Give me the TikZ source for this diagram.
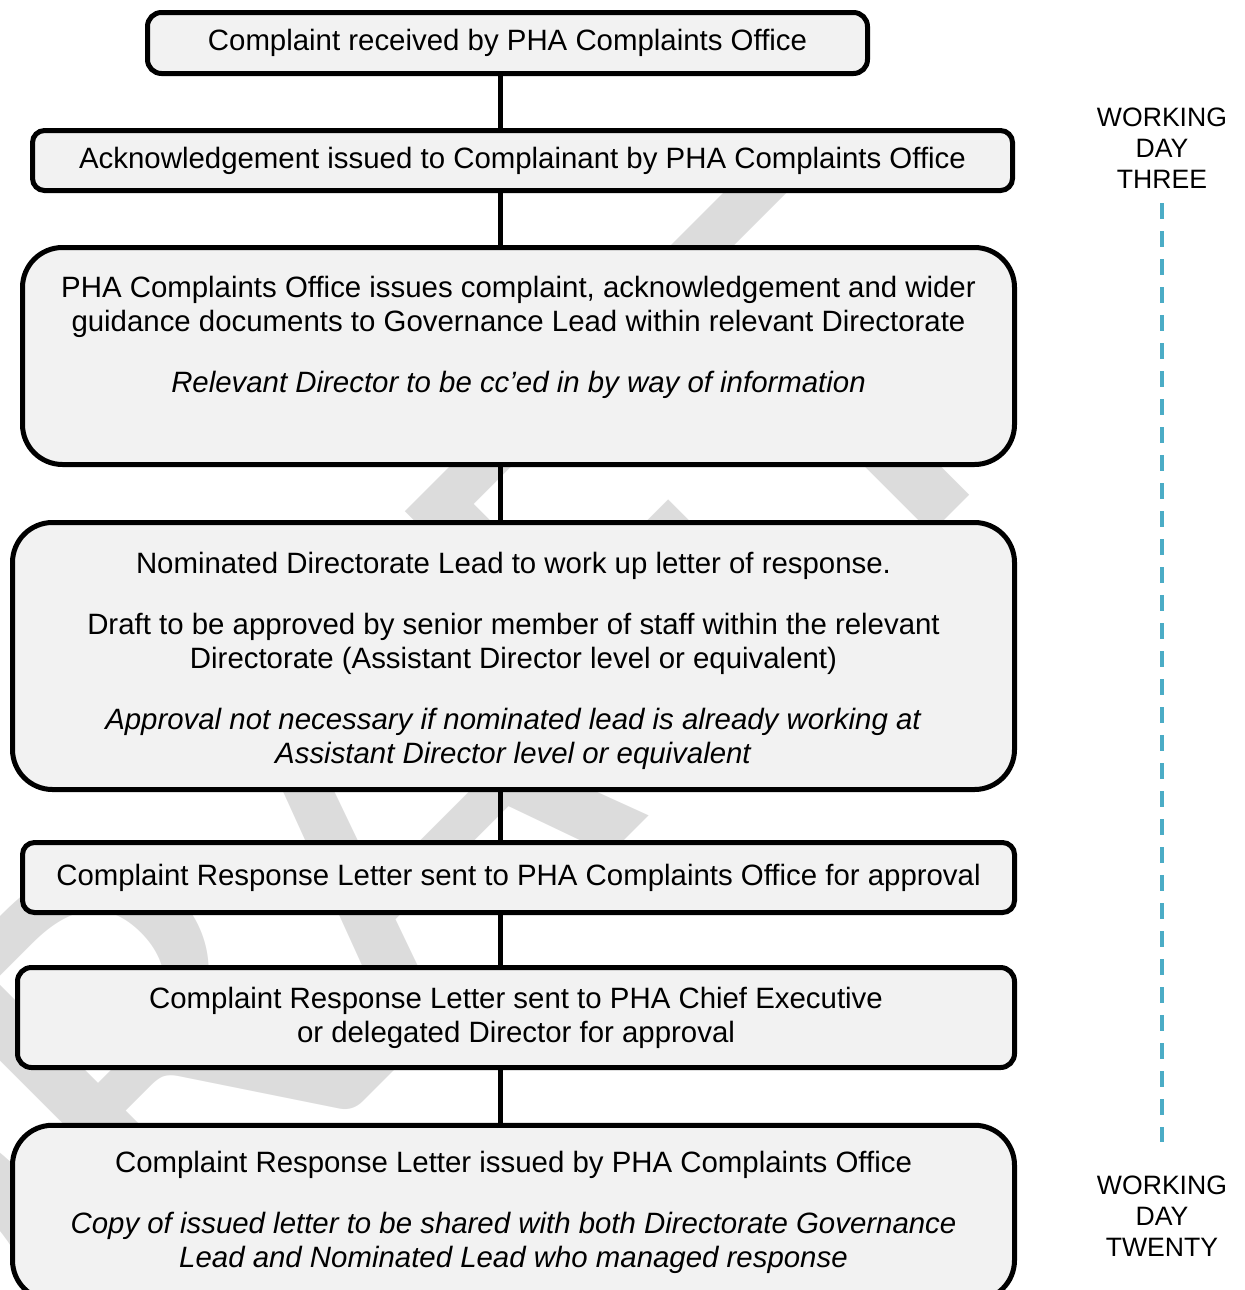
\documentclass[tikz,border=0pt]{standalone}
\usepackage{fontspec}
\setmainfont{Liberation Sans}
\newfontfamily\markfont{Carlito}
\definecolor{boxgrey}{HTML}{F2F2F2}
\definecolor{daycyan}{HTML}{4BACC6}
\definecolor{markgrey}{HTML}{DCDCDC}

\begin{document}
\begin{tikzpicture}[x=0.5pt,y=-0.5pt]
	\tikzset{stage/.style={draw, line width=2.5pt, fill=boxgrey, align=center, inner sep=0pt, font=\fontsize{14.7}{17}\selectfont},
		daylabel/.style={align=center, inner sep=0pt, font=\fontsize{13.3}{15.5}\selectfont},
		link/.style={line width=2.5pt},
		timeline/.style={draw=daycyan, line width=2pt, dash pattern=on 8pt off 6pt}}
	\useasboundingbox (0,0) rectangle (1245,1290);

	\node[rotate=45, text=markgrey, font=\markfont\fontsize{302}{302}\selectfont] (mark) at (345,846) {DRAFT};

	\coordinate (spine) at (500,0);
	\node[stage, rounded corners=7pt, minimum width=360pt, minimum height=30.5pt] (received) at (507.5,43) {Complaint received by PHA Complaints Office};
	\node[stage, rounded corners=6pt, minimum width=490pt, minimum height=30pt] (ack) at (522.5,160.5) {Acknowledgement issued to Complainant by PHA Complaints Office};
	\node[stage, rounded corners=20pt, minimum width=496pt, minimum height=108.5pt] (issue) at (518.5,356) {PHA Complaints Office issues complaint, acknowledgement and wider\\ guidance documents to Governance Lead within relevant Directorate\\[13.5pt] \textit{Relevant Director to be cc’ed in by way of information}\\[4.5pt]\mbox{}};
	\node[stage, rounded corners=20pt, minimum width=501pt, minimum height=133.5pt] (draft) at (513.5,656) {\mbox{}\\[-1.3pt] Nominated Directorate Lead to work up letter of response.\\[13.5pt] Draft to be approved by senior member of staff within the relevant\\ Directorate (Assistant Director level or equivalent)\\[13.5pt] \textit{Approval not necessary if nominated lead is already working at}\\ \textit{Assistant Director level or equivalent}};
	\node[stage, rounded corners=6pt, minimum width=496pt, minimum height=35pt] (officeok) at (518.5,877.5) {Complaint Response Letter sent to PHA Complaints Office for approval};
	\node[stage, rounded corners=7pt, minimum width=498.5pt, minimum height=50pt] (chiefok) at (516,1017.5) {Complaint Response Letter sent to PHA Chief Executive\\ or delegated Director for approval};
	\node[stage, rounded corners=20pt, minimum width=501pt, minimum height=87.5pt] (issued) at (513.5,1212.75) {Complaint Response Letter issued by PHA Complaints Office\\[13.5pt] \textit{Copy of issued letter to be shared with both Directorate Governance}\\ \textit{Lead and Nominated Lead who managed response}};

	\draw[link] (spine |- received.south) -- (spine |- ack.north);
	\draw[link] (spine |- ack.south) -- (spine |- issue.north);
	\draw[link] (spine |- issue.south) -- (spine |- draft.north);
	\draw[link] (spine |- draft.south) -- (spine |- officeok.north);
	\draw[link] (spine |- officeok.south) -- (spine |- chiefok.north);
	\draw[link] (spine |- chiefok.south) -- (spine |- issued.north);

	\node[daylabel] (daythree) at (1162,148.5) {WORKING\\ DAY\\ THREE};
	\node[daylabel] (daytwenty) at (1162,1216) {WORKING\\ DAY\\ TWENTY};
	\draw[timeline] ([yshift=-7pt]daythree.south) -- ([yshift=16.5pt]daytwenty.north);
\end{tikzpicture}
\end{document}
